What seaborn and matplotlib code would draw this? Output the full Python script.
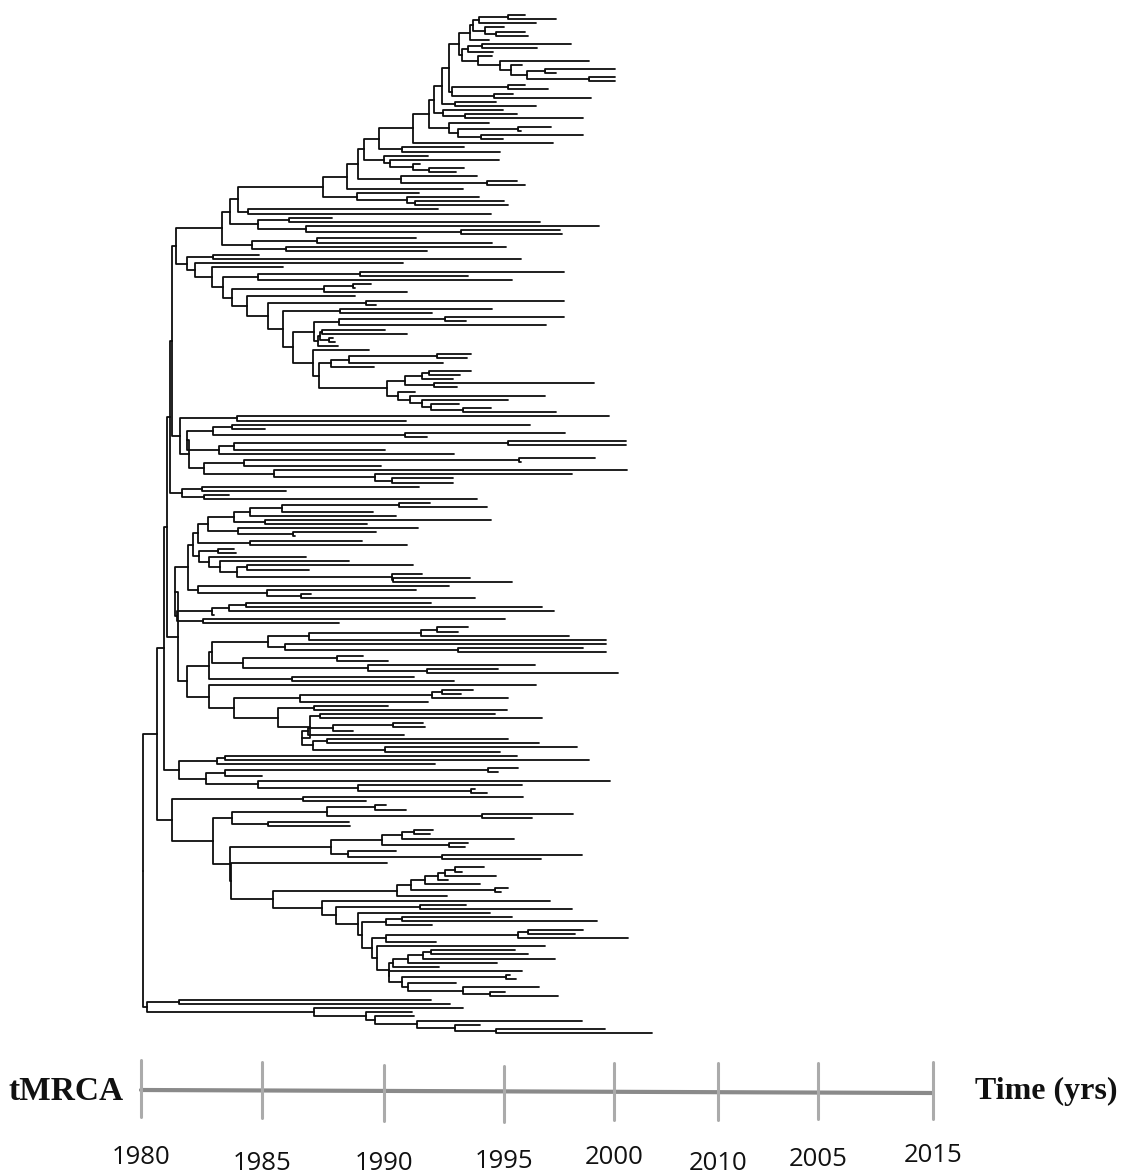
import re
import numpy as np
import pandas as pd
import matplotlib
matplotlib.use("Agg")
import matplotlib.pyplot as plt
import seaborn as sns

# ---------------- data: tree clades (node x positions in plot units) ----------------
# notation: (child,child)X  -> internal node whose split sits at X ; bare number = tip end
a = "((525,556)508,536)479"
b = "(504,(525,528)496)485"
c = f"(({a},{b})473,489)470"
d = "((571,537)482,493)468"
e = "(492,(589,(522,((615,556)545,(615,615)589)527)511)500)478"
f = f"({d},{e})462"
g = f"({c},{f})459"
h = "((525,548)508,(513,591)494)452"
i_ = f"({g},{h})449"
k = f"({i_},(496,536)455)442"
l = "(503,(517,583)465)443"
m = "(489,((551,521)518,(583,503)481)458)449"
n = f"(({k},{l})434,{m})429"
o = f"({n},553)413"
p = f"({o},(464,500)402)379"
q = "(428,(499,(420,(464,456)429)413)390)384"
r = f"({p},{q})364"
s = f"({r},(477,(517,525)487)401)358"
t = f"({s},463)347"
u = f"({t},(419,(479,(504,508)415)407)357)323"
v = f"({u},(438,491)248)238"
w = f"({v},((332,540)289,(599,(560,562)461)306)258)230"
top_upper = f"({w},((416,492)317,(506,427)286)252)222"

lu = "((((471,460)429,453)422,(594,457)434)405,(415,(545,(508,(459,(491,556)463)431)422)410)398)387"
lt = f"((((471,467)437,443)349,374)331,{lu})319"
ls = f"(369,{lt})313"
lr = "(((564,466)445,546)339,(((385,407)322,(333,335)329)320,338)318)314"
lq = f"({lr},{ls})293"
lp = f"((492,432)340,{lq})283"
lo = f"((564,376)366,{lp})268"
ln = f"(355,{lo})247"
lm = f"(((371,355)353,407)324,{ln})232"
ll = f"(((564,468)360,512)258,{lm})223"
top_lower = f"((259,521)213,(403,(283,{ll})212)195)187"
clade_top = f"({top_upper},{top_lower})176"

m1 = ("((609,406)237,((((530,265)232,(565,427)405)213,(((626,626)508,385)234,454)219)187,"
      "(((595,521)519,381)244,(627,(572,(453,453)392)375)274)204)189)180")
m2 = "((419,286)202,(229,477)204)182"
m3a = "((((((430,487)399,373)282,396)250,(491,367)265)234,(418,(376,295)293)238)208,(362,407)250)198"
m3b = "((234,236)218,(306,(349,((413,309)247,(422,(470,512)393)392)237)220)209)199"
m3c = "(449,(416,(311,475)301)267)198"
m3 = f"(({m3a},{m3b})193,{m3c})188"
m4 = "((((431,542)246,554)229,214)212,(505,339)203)177"
m5a = ("((((((468,458)437,569)421,606)309,(606,(583,606)458)285)268,"
       "((363,388)337,(535,(498,618)427)368)243)212,(414,454)292)209")
m5c = ("(536,((((473,461)442,508)432,428)300,((388,507)314,((495,542)320,"
       "((((423,425)393,353)333,404)308,((508,539)327,(577,500)385)313)302)310)278)234)209")
m5 = f"({m5a},{m5c})187"
n179 = "(((517,589)225,435)217,(((518,498)488,262)225,(610,(522,(475,487)471)358)258)206)179"

n232 = "(((386,406)375,(573,532)482)327,(349,350)268)232"
n603 = "((((433,430)414,514)402,(468,465)449)382,(396,(582,541)442)348)331"
n397 = "((((((484,462)455,496)445,448)438,480)425,(508,501)495)411,447)397"
n758 = "((((515,528)431,555)423,497)408,439)393"
n750 = "(522,((510,516)506,(456,(539,(505,558)490)463)408)402)389"
n667 = f"(((512,597)402,432)386,((((583,575)528,628)518,436)386,(545,({n758},{n750})389)377)372)362"
n320 = f"(550,((466,572)420,(490,{n667})358)336)322"
n230 = f"({n603},(387,({n397},{n320})273)231)230"
n172 = f"((523,366)303,({n232},{n230})213)172"
clade_bottom = "((431,450)179,(463,(412,(414,(582,(480,(605,652)496)455)417)375)366)314)147"

backbone = (f"(((((({clade_top},{m1})172,{m2})170,(({m3},{m4})175,{m5})178)167,"
            f"{n179})164,{n172})157,{clade_bottom})143")

# time axis
tick_labels = ["1980", "1985", "1990", "1995", "2000", "2010", "2005", "2015"]
tick_pos = [141, 262, 384, 504, 614, 718, 818, 933]
tick_top = [1060, 1062, 1065, 1066, 1063, 1063, 1063, 1062]
tick_bot = [1117, 1118, 1121, 1122, 1120, 1120, 1119, 1119]
label_y = [1158, 1163, 1163, 1162, 1158, 1163, 1159, 1156]


# ---------------- tree parsing / layout ----------------
def parse(txt):
    pos = 0

    def num():
        nonlocal pos
        mt = re.match(r"[\d.]+", txt[pos:])
        pos += len(mt.group())
        return float(mt.group())

    def node():
        nonlocal pos
        if txt[pos] == "(":
            pos += 1
            kids = [node()]
            while txt[pos] == ",":
                pos += 1
                kids.append(node())
            pos += 1  # ')'
            return {"x": num(), "kids": kids}
        return {"x": num(), "kids": []}

    return node()


tree = parse(backbone)

leaves = []


def collect(nd):
    if not nd["kids"]:
        leaves.append(nd)
    for kd in nd["kids"]:
        collect(kd)


collect(tree)
y_first, y_last = 15.0, 1033.0
for idx, lf in enumerate(leaves):
    lf["y"] = y_first + idx * (y_last - y_first) / (len(leaves) - 1)


def set_y(nd):
    if nd["kids"]:
        for kd in nd["kids"]:
            set_y(kd)
        nd["y"] = 0.5 * (nd["kids"][0]["y"] + nd["kids"][-1]["y"])


set_y(tree)

rows = []
seg = 0


def segments(nd):
    global seg
    for kd in nd["kids"]:
        for j, (xx, yy) in enumerate([(nd["x"], nd["y"]), (nd["x"], kd["y"]), (kd["x"], kd["y"])]):
            rows.append({"seg": seg, "o": j, "x": xx, "y": yy})
        seg += 1
        segments(kd)


segments(tree)
df = pd.DataFrame(rows)

# ---------------- drawing ----------------
sns.set_theme(style="white")
num_font = ["Open Sans", "DejaVu Sans"]
serif_font = ["Liberation Serif", "DejaVu Serif"]

fig = plt.figure(figsize=(11.28, 11.75), dpi=100)
ax = fig.add_axes([0, 0, 1, 1])
sns.lineplot(data=df, x="x", y="y", units="seg", estimator=None, sort=False,
             color="#0d0d0d", linewidth=1.3, ax=ax, legend=False)

axis_df = pd.DataFrame({"x": [tick_pos[0], tick_pos[-1]], "y": [1090, 1093]})
sns.lineplot(data=axis_df, x="x", y="y", color="#8a8a8a", linewidth=3.0, ax=ax,
             estimator=None, sort=False, legend=False)
tick_df = pd.DataFrame({
    "seg": np.repeat(np.arange(len(tick_pos)), 2),
    "x": np.repeat(tick_pos, 2),
    "y": np.ravel(np.column_stack([tick_top, tick_bot])),
})
sns.lineplot(data=tick_df, x="x", y="y", units="seg", estimator=None, sort=False,
             color="#ababab", linewidth=2.2, ax=ax, legend=False)

for lab, xp, yp in zip(tick_labels, tick_pos, label_y):
    ax.text(xp, yp, lab, ha="center", va="center", fontsize=18.5, family=num_font, color="#111111")

ax.text(124, 1091, "tMRCA", ha="right", va="center", fontsize=24, fontweight="bold",
        family=serif_font, color="#111111")
ax.text(975, 1091, "Time (yrs)", ha="left", va="center", fontsize=23, fontweight="bold",
        family=serif_font, color="#111111")

ax.set_xlim(0, 1128)
ax.set_ylim(1175, 0)
ax.axis("off")
fig.savefig("out.png", dpi=100, facecolor="white")
